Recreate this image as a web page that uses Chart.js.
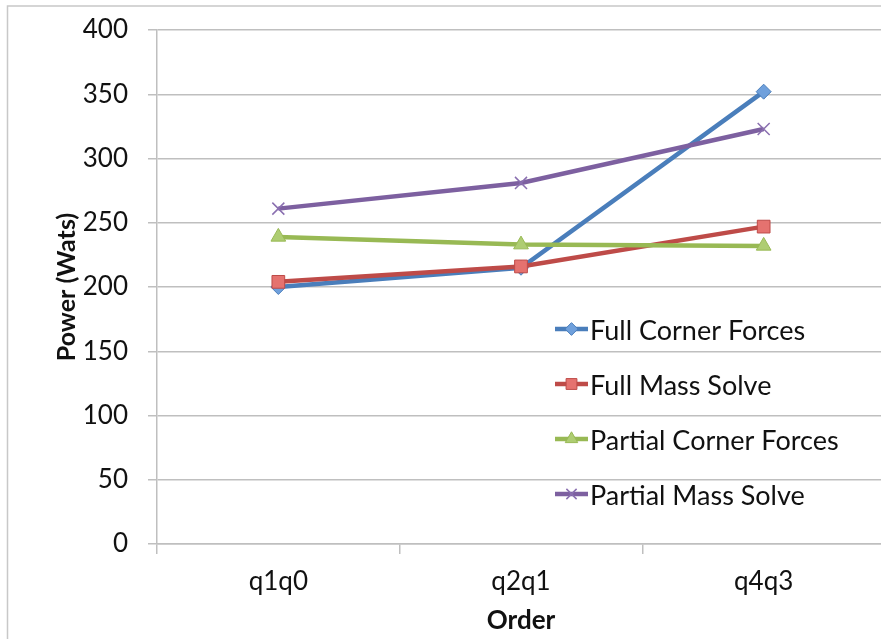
<!DOCTYPE html>
<html>
<head>
<meta charset="utf-8">
<script src="https://cdn.jsdelivr.net/npm/chart.js@4/dist/chart.umd.min.js"></script>
<style>
  html, body { margin: 0; padding: 0; background: #fff; overflow: hidden; }
  #wrap { position: relative; width: 895px; height: 639px; }
</style>
</head>
<body>
<div id="wrap"><canvas id="c"></canvas></div>
<script>
// Power draw per element order
const orders = ['q1q0', 'q2q1', 'q4q3'];
const fullCornerForces = [200, 215, 352];
const fullMassSolve = [204, 216, 247];
const partialCornerForces = [239, 233, 232];
const partialMassSolve = [261, 281, 323];
const yTicks = [0, 50, 100, 150, 200, 250, 300, 350, 400];

const FONT = 'Lato, "Open Sans", sans-serif';
const GRID = '#BFBFBF';
const TEXT = '#111';

function series(label, data, line, fill, style, radius, order) {
  return {
    label, data, order,
    borderColor: line, backgroundColor: fill,
    borderWidth: 4.5,
    pointStyle: style, pointRadius: radius, pointHoverRadius: radius,
    pointBorderColor: style === 'crossRot' ? '#8A6FB0' : line,
    pointBackgroundColor: fill,
    pointBorderWidth: style === 'crossRot' ? 1.5 : 1,
    tension: 0
  };
}

// Frame around the whole chart
const framePlugin = {
  id: 'frame',
  beforeDraw(chart) {
    const ctx = chart.ctx;
    ctx.save();
    ctx.strokeStyle = '#C8C8C8';
    ctx.lineWidth = 1.5;
    ctx.beginPath();
    ctx.moveTo(7.5, chart.height);
    ctx.lineTo(7.5, 6);
    ctx.lineTo(chart.width, 6);
    ctx.stroke();
    ctx.restore();
  }
};

// Legend drawn inside the plot area, lower right
const innerLegend = {
  id: 'innerLegend',
  afterDatasetsDraw(chart) {
    const ctx = chart.ctx;
    const area = chart.chartArea;
    const x0 = area.left + 398, x1 = x0 + 33;
    const rowY = [area.top + 299, area.top + 354, area.top + 409, area.top + 464];
    ctx.save();
    chart.data.datasets.forEach((ds, i) => {
      const y = rowY[i];
      ctx.strokeStyle = ds.borderColor;
      ctx.lineWidth = 4.5;
      ctx.beginPath();
      ctx.moveTo(x0, y);
      ctx.lineTo(x1, y);
      ctx.stroke();
      ctx.fillStyle = ds.pointBackgroundColor;
      ctx.strokeStyle = ds.pointBorderColor;
      ctx.lineWidth = ds.pointBorderWidth;
      Chart.helpers.drawPoint(ctx, {
        pointStyle: ds.pointStyle, radius: ds.pointRadius * 0.85,
        rotation: 0, borderWidth: ds.pointBorderWidth
      }, (x0 + x1) / 2, y);
      ctx.fillStyle = TEXT;
      ctx.font = '27px ' + FONT;
      ctx.textBaseline = 'middle';
      ctx.textAlign = 'left';
      ctx.fillText(ds.label, x1 + 2, y + 2);
    });
    ctx.restore();
  }
};

new Chart(document.getElementById('c'), {
  type: 'line',
  data: {
    labels: orders,
    datasets: [
      series('Full Corner Forces', fullCornerForces, '#4A7EBB', '#6FA0DC', 'rectRot', 7.5, 4),
      series('Full Mass Solve', fullMassSolve, '#BE4B48', '#E5726F', 'rect', 9, 3),
      series('Partial Corner Forces', partialCornerForces, '#98B954', '#AECD72', 'triangle', 8.5, 2),
      series('Partial Mass Solve', partialMassSolve, '#7D60A0', '#7D60A0', 'crossRot', 8.5, 1)
    ]
  },
  options: {
    responsive: true,
    maintainAspectRatio: false,
    animation: false,
    layout: { padding: { top: 30, right: 8, left: 0, bottom: 0 } },
    plugins: {
      legend: { display: false },
      tooltip: { enabled: false }
    },
    scales: {
      x: {
        offset: true,
        grid: {
          offset: true, drawOnChartArea: false, drawTicks: true,
          tickLength: 10, color: GRID, lineWidth: 1.5
        },
        border: { color: GRID, width: 1.5 },
        ticks: { font: { family: FONT, size: 26 }, color: TEXT, padding: 12 },
        title: {
          display: true, text: 'Order',
          font: { family: FONT, size: 26, weight: 'bold' }, color: TEXT,
          padding: { top: 0, bottom: 3 }
        },
        afterFit(scale) { scale.height = 95; }
      },
      y: {
        min: 0, max: 400,
        afterBuildTicks(scale) { scale.ticks = yTicks.map(v => ({ value: v })); },
        grid: { color: GRID, lineWidth: 1.5, tickLength: 9 },
        border: { color: GRID, width: 1.5 },
        ticks: { font: { family: FONT, size: 26 }, color: TEXT, padding: 20 },
        title: {
          display: true, text: 'Power (Wats)',
          font: { family: FONT, size: 25, weight: 'bold' }, color: TEXT,
          padding: { top: 52, bottom: 0 }
        },
        afterFit(scale) {
          scale.width = 157;
          // keep the top/bottom label overhang from pushing the plot area in
          scale.paddingTop = 16;
          scale.paddingBottom = 16;
        }
      }
    }
  },
  plugins: [framePlugin, innerLegend]
});
</script>
</body>
</html>
